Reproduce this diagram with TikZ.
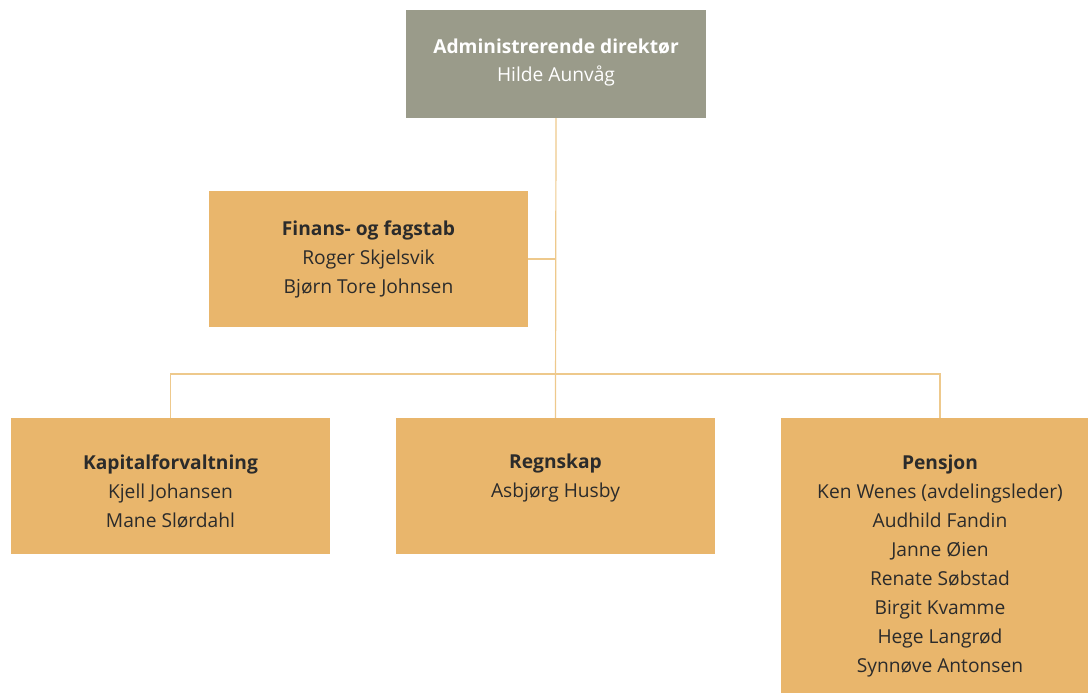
\documentclass[tikz,border=0pt]{standalone}
\usepackage{fontspec}
\setmainfont{Open Sans}
\definecolor{boxor}{HTML}{E9B66C}
\definecolor{boxgr}{HTML}{9A9B8A}
\definecolor{linor}{HTML}{EEC98C}
\definecolor{txt}{HTML}{2B2B2B}
\begin{document}
\begin{tikzpicture}[x=1pt,y=-1pt,
  obox/.style={rectangle, fill=boxor, draw=none, minimum width=319pt, minimum height=136pt, inner sep=0pt},
  gbox/.style={rectangle, fill=boxgr, draw=none, minimum width=300pt, minimum height=108pt, inner sep=0pt},
  otext/.style={align=center, text=txt, inner sep=0pt, font=\fontsize{19.2}{29}\selectfont},
  gtext/.style={align=center, text=white, inner sep=0pt, font=\fontsize{19.2}{28}\selectfont},
  conn/.style={draw=linor, line width=1.2pt}]
\useasboundingbox (0,0) rectangle (1088,693);
\begin{scope}
\clip (0,0) rectangle (1088,693);
\node[gbox] (top) at (556,64) {};
\node[obox] (fin) at (368.5,259) {};
\node[obox] (kap) at (170.5,486) {};
\node[obox] (reg) at (555.5,486) {};
\node[obox, minimum height=290pt, anchor=north] (pen) at (940,418) {};
\coordinate (bus) at (556,374);
\draw[conn] (top.south) -- (reg.north);
\draw[conn] (fin.east) -- (fin.east -| top.south);
\draw[conn] (kap.north) |- (bus) -| (pen.north);
\node[gtext] (toptxt) at (556,63) {\textbf{Administrerende direktør}\\Hilde Aunvåg};
\node[otext] (fintxt) at (368.5,259) {\textbf{Finans- og fagstab}\\Roger Skjelsvik\\Bjørn Tore Johnsen};
\node[otext] (kaptxt) at (170.5,491) {\textbf{Kapitalforvaltning}\\Kjell Johansen\\Mane Slørdahl};
\node[otext] (regtxt) at (555.5,478.5) {\textbf{Regnskap}\\Asbjørg Husby};
\node[otext] (pentxt) at (940,566) {\textbf{Pensjon}\\Ken Wenes (avdelingsleder)\\Audhild Fandin\\Janne Øien\\Renate Søbstad\\Birgit Kvamme\\Hege Langrød\\Synnøve Antonsen};
\end{scope}
\end{tikzpicture}
\end{document}
